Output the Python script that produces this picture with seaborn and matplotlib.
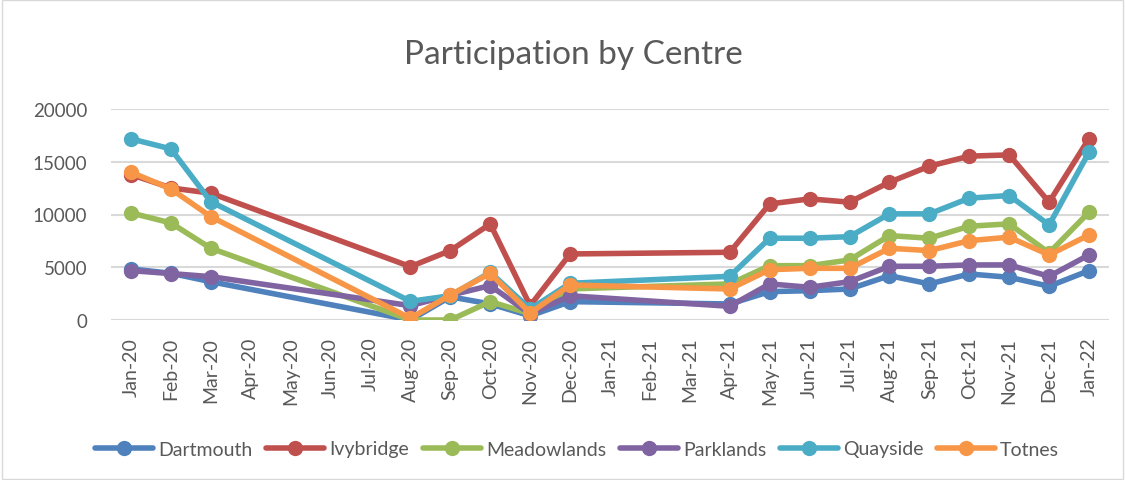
import matplotlib
matplotlib.use("Agg")
import matplotlib.pyplot as plt
import seaborn as sns
import pandas as pd
from matplotlib.patches import Rectangle

# all months on the axis
months = ["Jan-20", "Feb-20", "Mar-20", "Apr-20", "May-20", "Jun-20", "Jul-20", "Aug-20",
          "Sep-20", "Oct-20", "Nov-20", "Dec-20", "Jan-21", "Feb-21", "Mar-21", "Apr-21",
          "May-21", "Jun-21", "Jul-21", "Aug-21", "Sep-21", "Oct-21", "Nov-21", "Dec-21", "Jan-22"]

# months that have data
data_months = ["Jan-20", "Feb-20", "Mar-20", "Aug-20", "Sep-20", "Oct-20", "Nov-20", "Dec-20",
               "Apr-21", "May-21", "Jun-21", "Jul-21", "Aug-21", "Sep-21", "Oct-21", "Nov-21",
               "Dec-21", "Jan-22"]

dartmouth   = [4840, 4430, 3630, 0, 2200, 1520, 400, 1740, 1520, 2690, 2780, 2940, 4200, 3420, 4360, 4050, 3200, 4680]
ivybridge   = [13790, 12520, 12020, 5060, 6580, 9100, 1360, 6260, 6420, 11000, 11480, 11170, 13060, 14580, 15530, 15650, 11170, 17200]
meadowlands = [10150, 9200, 6800, 0, 0, 1740, 600, 2950, 3420, 5150, 5150, 5690, 8000, 7750, 8890, 9110, 6360, 10220]
parklands   = [4680, 4400, 4110, 1360, 2350, 3260, 570, 2300, 1300, 3420, 3100, 3630, 5090, 5090, 5220, 5220, 4140, 6170]
quayside    = [17170, 16220, 11220, 1770, 2300, 4520, 1040, 3480, 4140, 7750, 7750, 7900, 10060, 10060, 11550, 11800, 9010, 15910]
totnes      = [14010, 12430, 9800, 160, 2370, 4430, 660, 3320, 2940, 4770, 4900, 4900, 6800, 6580, 7520, 7850, 6170, 8060]

centres = ["Dartmouth", "Ivybridge", "Meadowlands", "Parklands", "Quayside", "Totnes"]
colors = ["#4F81BD", "#C0504D", "#9BBB59", "#8064A2", "#4BACC6", "#F79646"]

series = dict(zip(centres, [dartmouth, ivybridge, meadowlands, parklands, quayside, totnes]))
rows = []
for c, vals in series.items():
    for m, v in zip(data_months, vals):
        rows.append({"month": months.index(m), "value": v, "centre": c})
df = pd.DataFrame(rows)

sns.set_style("white")
plt.rcParams["font.family"] = ["Lato", "DejaVu Sans"]
text_col = "#595959"

fig = plt.figure(figsize=(11.25, 4.81), dpi=100)
ax = fig.add_axes([111 / 1125, 1 - 321 / 481, 998 / 1125, 211 / 481])

sns.lineplot(data=df, x="month", y="value", hue="centre", palette=colors,
             marker="o", markersize=11, markeredgewidth=0, linewidth=4,
             ax=ax, legend=True)

ax.set_xlim(-0.5, len(months) - 0.5)
ax.set_ylim(0, 20000)
ax.set_yticks([0, 5000, 10000, 15000, 20000])
ax.set_xticks(range(len(months)))
ax.set_xticklabels(months, rotation=90, fontsize=14, color=text_col)
ax.tick_params(axis="y", labelsize=13.5, labelcolor=text_col, length=0, pad=17)
ax.tick_params(axis="x", length=0, pad=12)
ax.yaxis.grid(True, color="#D9D9D9", linewidth=1.5)
ax.set_axisbelow(True)
for s in ax.spines.values():
    s.set_visible(False)
ax.set_xlabel("")
ax.set_ylabel("")

fig.text(0.51, 1 - 55 / 481, "Participation by Centre", ha="center", va="center",
         fontsize=24, color=text_col)

handles, labels = ax.get_legend_handles_labels()
ax.get_legend().remove()
fig.legend(handles, labels, loc="center", bbox_to_anchor=(0.513, 1 - 450 / 481), ncol=6,
           frameon=False, fontsize=14, labelcolor=text_col, handlelength=3.0,
           columnspacing=0.7, handletextpad=0.25)

fig.patches.append(Rectangle((0.002, 0.003), 0.996, 0.994, transform=fig.transFigure,
                             fill=False, edgecolor="#D9D9D9", linewidth=1))

fig.savefig("out.png", dpi=100)
